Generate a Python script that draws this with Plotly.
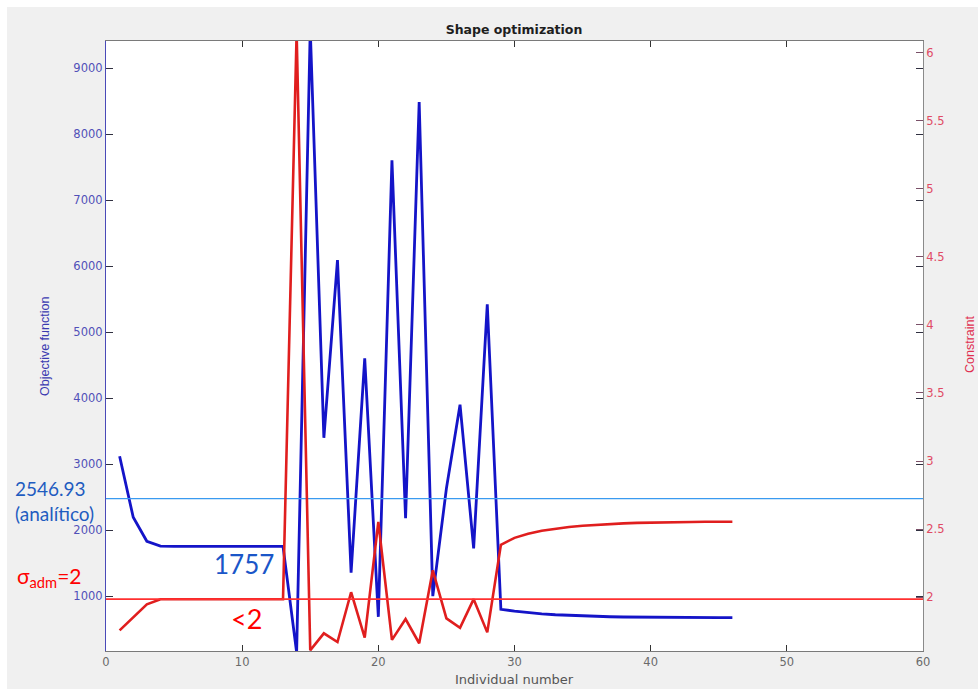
import plotly.graph_objects as go

# ---------------- data ----------------
individual = list(range(1, 47))

objective = [3121, 2197, 1833, 1760, 1757, 1757, 1757, 1757, 1757, 1757,
             1757, 1757, 1757, 150, 9600, 3402, 6093, 1358, 4606, 689,
             7606, 2182, 8490, 1003, 2635, 3903, 1727, 5424, 803, 775,
             750, 733, 720, 710, 702, 695, 690, 686, 683, 681,
             679, 678, 677, 676, 676, 676]

constraint = [1.755, 1.853, 1.946, 1.983, 1.983, 1.983, 1.983, 1.983, 1.983, 1.983,
              1.983, 1.983, 1.983, 6.15, 1.608, 1.733, 1.669, 2.035, 1.701, 2.553,
              1.685, 1.838, 1.660, 2.196, 1.843, 1.773, 1.984, 1.740, 2.384, 2.435,
              2.465, 2.487, 2.503, 2.515, 2.524, 2.531, 2.537, 2.541, 2.545, 2.548,
              2.550, 2.551, 2.552, 2.553, 2.553, 2.553]

analytic_ref = 2480      # drawn reference (labelled 2546.93) on objective axis
sigma_adm = 1.985        # drawn constraint limit (labelled 2) on constraint axis

x_range = [0, 60]
y_left_range = [171, 9414]
y_right_range = [1.603, 6.088]

# ---------------- layout geometry ----------------
W, H = 978, 693
L, R, T, B = 106, 55, 41, 42
PW, PH = W - L - R, H - T - B


def px(xp):
    return (xp - L) / PW


def py(yp):
    return (H - B - yp) / PH


fig = go.Figure()

fig.add_trace(go.Scatter(x=individual, y=objective, mode="lines",
                         line=dict(color="#1414c8", width=2.8), yaxis="y",
                         cliponaxis=True, hoverinfo="skip"))
fig.add_trace(go.Scatter(x=individual, y=constraint, mode="lines",
                         line=dict(color="#e01e1e", width=2.6), yaxis="y2",
                         cliponaxis=True, hoverinfo="skip"))

# reference lines (full width)
fig.add_trace(go.Scatter(x=x_range, y=[analytic_ref, analytic_ref], mode="lines",
                         line=dict(color="#3a9af0", width=1.2), yaxis="y",
                         hoverinfo="skip"))
fig.add_trace(go.Scatter(x=x_range, y=[sigma_adm, sigma_adm], mode="lines",
                         line=dict(color="#ff3030", width=1.8), yaxis="y2",
                         hoverinfo="skip"))

tick_font = dict(family="DejaVu Sans", size=11.5)

fig.update_layout(
    width=W, height=H,
    margin=dict(l=L, r=R, t=T, b=B),
    paper_bgcolor="#f0f0f0",
    plot_bgcolor="#ffffff",
    showlegend=False,
    title=dict(text="<b>Shape optimization</b>", x=px(514), xref="paper", xanchor="center",
               y=1 - 30 / H, yref="container", yanchor="middle",
               font=dict(family="DejaVu Sans", size=12.5, color="#1e1e1e")),
    xaxis=dict(range=x_range, dtick=10, tick0=0, showgrid=False, zeroline=False,
               showline=True, linecolor="#7a7a7a", linewidth=1, mirror="ticks",
               ticks="inside", ticklen=6, tickcolor="#333333",
               tickfont=dict(color="#6a6a6a", **tick_font)),
    yaxis=dict(range=y_left_range, dtick=1000, tick0=0, showgrid=False, zeroline=False,
               showline=True, linecolor="#4a4ab8", linewidth=1.2, mirror="ticks",
               ticks="inside", ticklen=7, tickcolor="#303040",
               tickfont=dict(color="#5050b8", **tick_font)),
    yaxis2=dict(range=y_right_range, dtick=0.5, tick0=0, overlaying="y", side="right",
                showgrid=False, zeroline=False, showline=True, linecolor="#8a8a8a",
                linewidth=1, ticks="inside", ticklen=7, tickcolor="#7a5068",
                tickfont=dict(color="#e04a64", **tick_font)),
)

# white outer border of the screenshot
for x0, y0, x1, y1 in [(0, 0, W, 7), (0, 0, 7, H), (0, H - 4, W, H)]:
    fig.add_shape(type="rect", xref="paper", yref="paper", layer="below",
                  x0=px(x0), x1=px(x1), y0=py(y1), y1=py(y0),
                  fillcolor="#ffffff", line=dict(width=0))

ann = []
# axis titles
ann.append(dict(text="Individual number", x=px(514), y=py(679), xanchor="center", yanchor="middle",
                font=dict(family="DejaVu Sans", size=13, color="#555555")))
ann.append(dict(text="Objective function", x=px(45), y=py(346), textangle=-90,
                xanchor="center", yanchor="middle",
                font=dict(family="Liberation Sans", size=12.5, color="#3a3ab0")))
ann.append(dict(text="Constraint", x=px(970), y=py(345), textangle=-90,
                xanchor="center", yanchor="middle",
                font=dict(family="Liberation Sans", size=12.5, color="#e03050")))
# overlay notes
ann.append(dict(text="2546.93<br>(analítico)", x=px(13), y=py(501), xanchor="left", yanchor="middle",
                align="left", font=dict(family="Lato", size=19, color="#1f5cc0")))
ann.append(dict(text="σ<sub>adm</sub>=2", x=px(15), y=py(577), xanchor="left", yanchor="middle",
                font=dict(family="Lato", size=21, color="#ff0000")))
ann.append(dict(text="1757", x=px(244), y=py(564), xanchor="center", yanchor="middle",
                font=dict(family="Lato", size=26, color="#1a56c8")))
ann.append(dict(text="&lt;2", x=px(246), y=py(618), xanchor="center", yanchor="middle",
                font=dict(family="Lato", size=27, color="#ff0000")))

for a in ann:
    a.update(xref="paper", yref="paper", showarrow=False)
fig.update_layout(annotations=ann)

fig.write_html("out.html")
